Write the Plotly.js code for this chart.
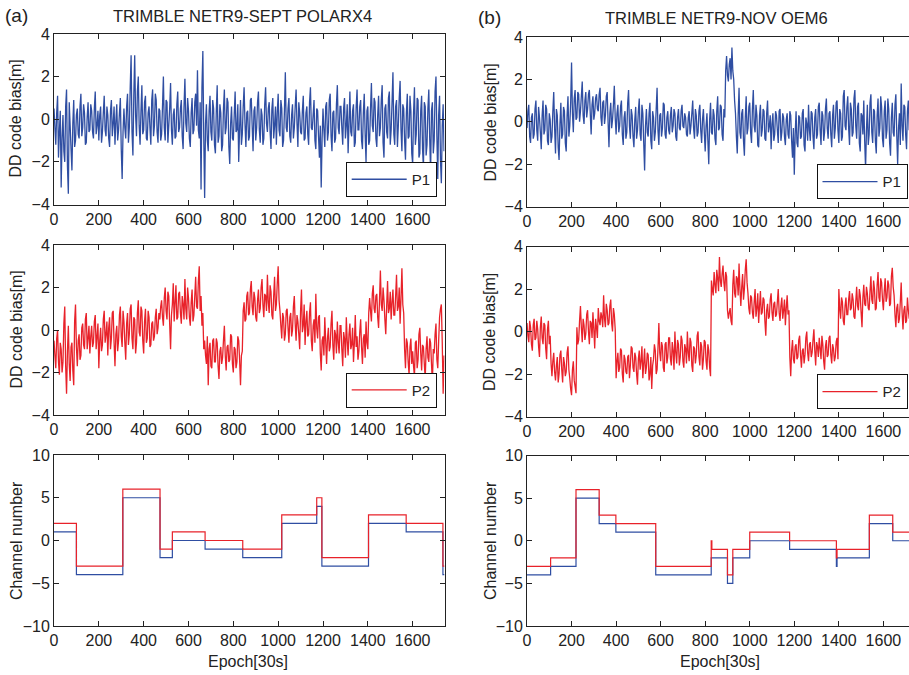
<!DOCTYPE html>
<html><head><meta charset="utf-8">
<script src="https://cdn.plot.ly/plotly-3.0.1.min.js"></script>
<style>html,body{margin:0;padding:0;background:#fff}#chart{width:909px;height:675px}</style>
</head><body><div id="chart"></div>
<script>
// ---------- data ----------
const SAMPLE_STEP = 4; // epochs between successive readings of the noisy series
const xTickVals = [0, 200, 400, 600, 800, 1000, 1200, 1400, 1600];
const biasTickVals = [-4, -2, 0, 2, 4];
const chanTickVals = [-10, -5, 0, 5, 10];

// (a) TRIMBLE NETR9 - SEPT POLARX4, DD code bias P1 [m]
const septP1 = [
 0.5,-0.4,-1.2,0.3,1.1,-1.8,-0.6,0.4,-3.2,-0.9,0.2,-1.5,-2.0,0.6,1.4,-2.2,-3.5,0.8,-0.3,-1.4,
 -2.4,-0.2,0.9,-1.3,-1.0,0.2,0.5,-0.7,-0.9,0.6,1.2,-0.8,-0.4,0.7,0.3,-1.2,-1.1,0.1,0.8,-0.6,
 -0.5,0.7,0.4,-0.6,-0.9,0.5,1.3,-0.7,-0.3,0.4,-1.0,0.2,0.6,-1.1,-0.6,0.3,1.1,-0.5,-0.8,0.6,
 0.2,-0.9,-1.3,0.4,0.9,-0.8,-0.2,0.6,-1.2,-0.1,0.7,-1.0,-0.5,0.3,1.0,-1.4,-2.8,-0.6,0.5,-0.4,
 -0.9,0.6,1.2,-1.1,-0.4,1.5,3.0,-0.6,-1.7,1.1,3.0,0.2,-0.8,1.3,2.0,-0.3,-1.2,0.4,1.6,-0.7,
 -0.5,0.8,1.1,-0.9,-1.0,0.3,0.6,-0.4,-1.2,0.9,1.4,-0.8,-0.3,1.2,0.9,-0.6,-1.1,0.5,0.4,-1.0,
 -0.7,0.6,2.0,-0.4,-1.0,0.9,0.8,-1.1,-0.3,0.5,1.7,-0.5,-1.2,0.2,0.5,-0.9,-0.8,0.7,1.3,-0.6,
 -0.4,0.5,0.9,-0.8,-1.4,0.6,1.9,-0.2,-0.6,1.0,0.4,-0.9,-1.3,0.3,1.0,-0.7,-0.5,0.8,1.2,-0.3,
 2.3,-0.5,-0.9,0.8,-3.3,1.5,3.2,-0.8,-3.7,-0.2,0.7,-1.0,-1.5,0.4,1.1,-0.6,-1.0,0.9,0.5,-1.2,
 -1.6,0.4,1.6,-1.1,-0.8,0.7,0.3,-1.5,-1.2,0.5,1.4,-0.7,-0.4,1.0,0.8,-1.3,-2.1,-0.2,0.6,-0.9,
 -1.0,0.2,1.3,-0.6,-0.5,0.7,-2.0,-0.4,0.9,-1.2,-0.7,0.6,1.5,-0.2,-1.3,0.3,0.4,-1.0,-0.8,0.9,
 1.0,-0.3,-1.5,0.4,0.6,-1.0,-0.4,0.8,1.3,-0.5,-1.1,0.5,0.2,-1.2,-0.9,0.7,1.5,-0.2,-0.6,0.5,
 0.8,-0.6,-1.4,0.5,1.0,-0.9,-0.3,0.6,-1.2,0.3,1.2,-0.5,-0.8,0.9,0.5,-1.3,-1.0,0.4,2.2,-0.4,
 -0.6,0.5,1.0,-0.8,-1.1,0.2,0.7,-0.9,-0.4,0.6,1.4,-0.2,-1.3,0.8,0.3,-0.6,-0.7,0.4,1.1,-1.0,
 -0.9,0.3,0.6,-0.7,-1.2,0.8,1.5,-0.4,-0.5,0.2,0.9,-1.0,-1.4,0.5,0.4,-0.8,-1.8,-0.3,-3.2,-0.9,
 0.5,-0.5,-1.3,0.6,0.8,-1.0,-0.6,0.9,1.2,-0.8,-1.5,0.3,0.4,-1.1,-0.9,0.7,1.6,-0.4,-0.7,0.6,
 0.6,-0.4,-1.2,0.5,1.0,-0.9,-0.3,0.7,-1.6,-0.2,1.3,-0.6,-0.8,0.4,0.7,-1.3,-1.1,0.6,1.4,-0.5,
 -0.5,0.6,0.9,-1.0,-1.4,0.3,1.2,-0.7,-2.0,0.4,0.6,-1.2,-1.0,0.5,1.7,-0.3,-0.6,1.0,0.8,-0.9,
 -1.3,0.2,1.1,-0.8,-0.4,0.9,1.6,-1.1,-1.8,0.5,0.7,-0.6,-0.9,1.0,1.3,-1.2,-0.5,0.8,2.2,-0.7,
 -1.2,0.6,0.9,-1.3,-0.3,1.0,1.8,-0.5,-1.5,0.7,0.5,-1.0,-1.9,0.3,1.2,-0.9,-0.8,1.1,0.4,-1.6,
 -2.1,0.3,1.5,-1.2,-0.7,1.0,0.9,-1.8,-1.6,0.4,1.1,-1.4,-2.3,0.8,0.6,-1.7,-1.2,0.5,1.4,-0.9,
 -2.5,0.4,0.8,-1.6,-1.0,1.3,2.0,-0.8,-2.8,0.2,1.1,-1.9,-3.0,-0.3,0.7,-1.5
];
// (a) DD code bias P2 [m]
const septP2 = [
 -0.5,-1.2,-1.8,-0.4,0.0,-1.5,-2.1,-0.6,-0.9,-2.0,-1.5,0.3,1.1,-1.7,-3.0,-1.0,0.2,-1.6,-2.4,-0.8,
 -0.6,-1.9,-2.6,0.4,1.2,-0.8,-1.7,-0.5,-0.2,-1.4,-1.2,0.1,0.3,-0.7,-0.9,0.5,0.8,-0.9,-0.4,0.2,
 -1.1,-0.3,0.2,-0.8,-0.6,0.4,0.7,-0.9,-0.3,0.3,-1.8,-0.5,0.1,-1.0,-0.7,0.5,0.9,-0.6,-0.2,0.4,
 -1.2,0.1,0.6,-0.9,-0.4,0.8,0.9,-0.6,-1.7,-0.2,0.2,-1.0,-0.5,0.7,1.1,-0.3,-0.8,0.9,0.4,-0.6,
 -1.4,0.3,0.8,-0.7,-0.2,1.0,1.2,-0.4,-0.9,0.6,0.5,-1.1,-0.6,0.8,1.4,-0.1,-0.3,1.1,0.9,-0.5,
 -1.1,0.4,1.0,-0.6,-0.4,0.9,0.6,-0.8,-0.7,0.3,0.4,-0.5,-0.3,0.6,1.0,-0.2,0.1,0.8,0.5,1.1,
 1.4,0.6,0.2,1.5,2.0,0.9,0.5,1.8,1.6,0.3,-0.9,0.7,1.2,2.2,0.4,1.3,2.1,0.5,0.6,1.7,
 1.8,0.8,0.3,1.6,1.2,0.5,2.4,1.0,0.5,2.0,1.5,0.6,0.2,1.3,1.9,0.4,0.7,1.6,2.5,1.1,
 1.0,2.3,3.0,0.9,1.6,0.2,0.8,-0.9,-0.5,-1.2,-1.6,-0.3,-2.6,-0.9,-0.6,-1.7,-1.8,-0.5,-0.4,-1.5,
 -1.5,-0.4,-0.6,-1.7,-2.3,-1.0,-0.8,-1.6,-1.3,-0.5,0.2,-1.2,-1.9,-0.8,-0.7,-1.5,-1.4,-0.2,-0.3,-1.6,
 -2.0,-0.8,-0.9,-1.8,-1.5,-0.3,-0.5,-1.4,-2.6,-1.2,-1.0,0.9,1.3,0.4,0.5,1.6,1.8,0.7,0.8,1.9,
 2.3,1.1,0.7,1.8,1.5,0.6,0.4,1.4,1.9,0.8,1.0,2.0,2.4,1.2,0.6,1.7,1.6,0.9,2.6,1.3,
 0.8,2.1,1.8,0.7,0.5,1.6,2.5,0.9,1.2,2.2,3.0,1.4,0.9,0.2,-0.4,0.8,0.6,-0.5,-0.2,0.9,
 1.0,0.1,-0.6,0.6,0.8,-0.3,0.0,1.1,1.6,0.3,-0.5,0.7,0.4,-0.2,-0.9,0.9,1.9,-0.1,0.2,1.2,
 -0.7,0.4,0.9,-0.3,-0.2,0.8,1.3,-0.5,-1.0,0.2,0.5,-0.6,1.7,0.1,-0.4,0.6,0.7,-1.1,-1.9,-0.5,
 -0.3,-1.2,0.6,-0.5,-1.6,-0.4,0.1,-1.0,-0.8,0.3,0.9,-0.7,-1.4,0.0,-0.2,-1.1,0.4,-0.6,-1.1,0.2,
 0.2,-0.9,-1.7,-0.1,-0.4,-1.3,0.6,-0.5,-1.2,-0.2,0.3,-0.9,-0.7,0.1,-1.5,-0.6,0.7,-0.8,-0.3,-1.4,
 -1.0,-0.1,0.5,-0.8,-1.6,-0.4,-0.2,-1.3,0.4,-0.6,-0.9,0.8,1.5,0.9,0.4,1.7,2.1,1.0,0.8,1.6,
 1.7,0.6,0.1,1.4,2.8,1.2,0.9,2.0,1.4,0.5,-0.2,1.1,2.3,0.8,1.0,1.8,0.5,1.3,1.9,0.7,
 0.7,1.6,2.6,0.9,1.1,2.0,0.3,1.5,2.9,1.2,0.8,-0.9,-1.8,-0.4,-0.6,-1.5,-2.1,-0.8,-0.4,-1.6,
 -1.0,-1.7,-2.2,-0.6,-0.5,-1.8,-1.4,-0.2,0.1,-1.1,-1.9,-0.7,-0.8,-1.6,-2.3,-0.9,-0.3,-1.3,-1.5,-0.4,
 -0.6,-1.6,-2.5,-0.9,-1.1,-0.2,0.3,-1.4,-1.8,-0.5,0.6,1.0,1.2,-0.6,-3.0,-1.2
];
// (b) TRIMBLE NETR9 - NOV OEM6, DD code bias P1 [m]
const novP1 = [
 -0.3,0.5,0.8,-0.7,-1.0,0.2,0.4,-0.8,-0.6,0.6,1.0,-0.4,-0.9,0.7,0.2,-0.5,-1.3,0.3,1.0,-0.6,
 -0.4,0.8,0.6,-0.9,-1.1,0.4,0.1,-1.0,-0.7,0.5,1.4,-0.3,-1.5,0.6,0.3,-1.2,-1.8,-0.1,0.9,-0.8,
 -0.6,0.7,0.5,-1.0,-1.4,0.3,1.2,-0.7,-0.2,0.9,2.8,0.4,-0.5,1.1,1.5,0.1,0.2,1.4,1.3,0.0,
 0.5,1.2,1.9,0.3,-0.1,1.0,1.4,0.2,0.6,1.3,1.5,0.4,-0.6,0.8,1.2,0.1,0.4,1.1,1.3,0.6,
 0.5,1.3,1.6,0.2,-0.2,0.9,1.0,-0.1,0.3,1.2,1.4,0.0,-1.2,0.4,0.9,-0.3,0.1,0.8,1.7,0.2,
 -0.6,0.4,0.8,-0.5,-0.2,0.7,1.0,-0.6,-1.1,0.2,0.5,-0.8,-0.5,0.9,1.5,-0.2,-0.8,0.6,0.3,-0.7,
 -1.2,0.1,0.7,-0.8,-0.4,0.5,1.1,-0.6,-0.9,0.8,0.4,-1.0,-2.3,-0.2,0.6,-0.5,-0.7,0.4,0.9,-0.9,
 -1.3,0.5,0.2,-0.9,-0.5,0.6,1.6,-0.4,-1.1,0.3,0.4,-0.7,-0.3,0.9,0.8,-0.6,-0.8,0.2,0.5,-0.4,
 -0.6,0.3,0.7,-0.5,-0.2,0.6,0.4,-0.7,-0.9,0.2,0.6,-0.3,-0.4,0.5,0.8,-0.2,-0.3,0.4,0.2,-0.6,
 -0.7,0.2,0.5,-0.6,-0.2,0.4,1.0,-0.3,-0.8,0.6,0.3,-0.7,-0.5,0.5,0.8,-0.4,-1.0,0.1,0.6,-0.5,
 -1.4,-0.2,0.4,-0.9,-2.0,0.1,0.9,-0.5,-0.6,0.6,0.3,-0.8,-1.1,0.5,1.2,-0.4,-0.3,0.8,0.7,-0.6,
 -0.9,0.6,0.2,2.4,3.1,2.2,1.9,2.7,3.0,2.0,3.5,2.4,2.0,1.0,0.4,-0.7,-1.5,0.3,1.6,-0.5,
 -0.8,0.4,0.6,-0.9,-1.6,0.2,1.2,-0.6,-0.3,0.7,0.9,-0.5,-1.0,0.6,1.5,-0.2,-0.5,0.8,0.3,-1.1,
 -1.2,0.3,0.8,-0.7,-0.4,0.6,0.5,-0.8,-0.9,0.4,1.0,-0.5,-0.2,0.3,-1.3,-0.1,0.4,-0.9,-0.6,0.5,
 0.3,-0.4,-1.0,0.5,0.6,-0.9,-0.5,0.4,0.2,-0.7,-1.1,0.1,0.4,-0.6,-0.8,0.5,0.3,-0.9,-1.7,-0.3,
 -2.5,-0.6,0.5,-1.0,-1.2,0.3,0.2,-0.8,-0.7,0.4,0.6,-1.1,-1.4,0.2,-0.1,-0.9,0.8,-0.4,-0.9,0.5,
 0.4,-0.7,-1.3,0.2,0.6,-0.8,-0.6,0.7,0.9,-0.4,-1.1,0.5,0.3,-0.9,-0.5,0.6,1.1,-0.3,-0.8,0.4,
 0.5,-0.6,-1.2,0.3,0.8,-0.8,-0.3,0.9,1.0,-0.4,-1.0,0.6,0.4,-0.9,-0.7,1.2,1.5,-0.2,-0.4,0.7,
 1.2,-0.3,-1.1,0.9,0.6,-0.7,-0.5,1.1,1.5,-0.2,-0.8,0.7,0.9,-1.0,-1.4,0.4,0.3,-0.6,1.0,-0.9,
 -2.2,-0.4,0.8,-1.1,-0.6,0.9,1.3,-0.5,-1.0,0.6,0.5,-0.9,-1.5,0.3,1.1,-0.7,-0.3,1.2,0.7,-0.8,
 -1.2,0.5,1.0,-0.8,-0.4,1.1,0.6,-1.0,-1.6,0.2,0.9,-0.5,-0.7,0.8,1.3,-0.6,-2.0,-0.3,0.4,-1.1,
 1.8,-0.2,-0.9,0.8,0.7,-0.6,-1.3,0.5,1.0,-0.4
];
// (b) DD code bias P2 [m]
const novP2 = [
 0.4,-0.2,-0.5,0.5,0.2,-0.6,-0.9,0.3,0.6,-0.4,-0.3,0.5,0.1,-0.7,-1.2,0.2,0.7,-0.3,-0.6,0.4,
 0.3,-0.8,-1.3,0.1,0.5,-0.6,-0.2,-1.5,-2.1,-1.4,-1.0,-1.9,-2.3,-1.6,-1.2,-2.4,-2.0,-1.1,-0.9,-1.8,
 -2.4,-1.2,-1.5,-2.1,-1.9,-1.0,-0.7,-1.8,-2.2,-2.7,-3.0,-1.8,-1.4,-2.3,-2.6,-2.9,0.2,-0.6,-0.4,0.5,
 1.2,0.2,-0.5,0.6,0.3,-0.4,-0.1,0.8,1.0,0.0,-0.6,0.5,0.4,-0.3,0.9,0.1,-0.8,0.6,0.2,-0.3,
 1.1,0.5,0.3,0.9,0.7,0.2,1.7,0.6,0.2,1.3,1.0,0.3,0.4,1.2,1.5,0.4,0.0,1.1,0.8,0.1,
 -2.2,-1.4,-1.0,-1.9,-1.7,-0.8,-0.9,-2.0,-2.4,-1.1,-1.3,-1.9,-2.0,-1.2,-1.1,-2.2,-1.6,-0.7,-0.8,-1.7,
 -1.9,-1.0,-1.2,-2.0,-2.5,-1.3,-0.9,-1.8,-1.4,-0.7,-2.2,-1.5,-0.8,-2.0,-1.7,-1.0,-1.1,-2.3,-2.0,-1.2,
 -2.7,-1.6,-1.3,-0.6,-0.9,-2.0,-1.8,-0.8,0.4,-1.0,-1.4,-0.5,-0.7,-1.7,-1.9,-0.6,-0.5,-1.5,-1.2,-0.3,
 -0.3,-1.3,-1.6,-0.5,-0.9,-1.8,0.0,-1.0,-1.5,-0.4,-0.6,-1.6,-1.2,-0.2,-0.4,-1.4,-1.7,-0.6,-0.8,-1.5,
 0.0,-1.0,-1.4,-0.3,-0.5,-1.6,-1.9,-0.7,-0.8,-1.5,-1.1,-0.2,0.0,-1.2,-1.6,-0.5,-0.7,-1.8,-1.3,-0.4,
 -0.5,-1.4,-1.8,-0.6,-0.9,-1.7,-2.1,2.4,2.0,1.7,2.8,2.2,1.8,2.9,2.5,1.9,3.5,2.4,2.1,2.7,
 3.1,2.3,1.9,2.8,2.6,1.0,0.6,0.9,1.1,0.5,0.3,2.2,2.9,1.8,1.6,2.6,2.5,1.7,3.2,2.0,
 1.2,2.1,2.7,1.5,2.0,2.9,3.4,2.3,1.8,1.1,0.8,1.7,1.6,0.9,0.6,1.4,2.0,0.7,1.1,1.8,
 0.4,1.2,1.9,0.8,0.9,1.6,1.5,0.5,-0.2,1.0,1.3,0.6,0.7,1.5,1.8,0.9,0.5,1.3,1.4,0.7,
 0.8,1.4,2.0,0.9,0.5,1.2,1.6,0.6,1.0,1.5,0.3,1.1,1.7,0.8,1.0,-1.2,-2.1,-0.9,-0.4,-1.3,
 -1.5,-0.7,-0.6,-1.3,-1.2,-0.4,-0.2,-1.1,-1.7,-0.9,-0.8,-1.5,-1.1,-0.3,0.0,-1.0,-1.4,-0.6,-0.5,-1.2,
 -1.0,-0.4,0.1,-0.9,-1.6,-0.5,-0.7,-1.2,-0.3,-0.8,-1.3,-0.2,-0.6,-1.4,-1.8,-0.7,-0.4,-1.2,-1.1,-0.3,
 -0.2,-1.1,-1.5,-0.6,-0.8,-1.4,-1.2,-0.5,-0.3,-1.3,2.0,1.1,0.6,1.6,1.4,0.5,0.3,1.2,1.6,0.8,
 0.8,1.5,1.9,1.0,1.1,1.8,1.5,0.7,0.6,1.4,2.1,1.2,1.0,2.0,1.7,0.9,0.2,1.6,2.2,1.3,
 1.2,2.1,1.8,1.1,1.0,1.9,2.6,1.5,1.3,2.4,2.0,1.0,1.1,2.2,2.8,1.6,1.4,2.5,2.3,1.5,
 1.0,1.9,2.5,1.4,1.6,2.4,2.2,1.2,1.3,2.6,3.0,2.1,1.7,0.8,0.2,1.1,1.3,0.4,0.6,1.4,
 2.3,0.9,0.1,1.0,1.2,0.4,0.5,1.6,1.0,0.6
];
// channel number step changes (epoch where a level starts, level)
const septChanEpochs = [0, 100, 307, 473, 528, 674, 842, 1016, 1172, 1195, 1403, 1571, 1735, 1742];
const septChanP1 = [1, -4, 5, -2, 0, -1, -2, 2, 4, -3, 2, 1, -4, -4];
const septChanP2 = [2, -3, 6, -1, 1, 0, -1, 3, 5, -2, 3, 2, -3, -3];
const novChanEpochsP1 = [0, 106, 220, 324, 399, 578, 827, 900, 924, 1000, 1179, 1389, 1392, 1537, 1642, 1720];
const novChanP1 = [-4, -3, 5, 2, 1, -4, -2, -5, -2, 0, -1, -3, -2, 2, 0, 0];
const novChanEpochsP2 = [0, 106, 220, 324, 399, 578, 827, 830, 900, 924, 1000, 1179, 1389, 1392, 1537, 1642, 1720];
const novChanP2 = [-3, -2, 6, 3, 2, -3, 0, -1, -4, -1, 1, 0, -2, -1, 3, 1, 1];

// ---------- drawing ----------
const W = 909, H = 675;
const FONT = 'Liberation Sans, Arial, Helvetica, sans-serif';
const TXT = '#222';
const BLUE = '#2f4ea2', RED = '#e8222a';
const epochsOf = arr => arr.map((_, i) => i * SAMPLE_STEP);
const noisyLine = c => ({color: c, width: 1.3, simplify: false});
const stepLine = c => ({color: c, width: 1.2, shape: 'hv', simplify: false});

const traces = [
  {x: epochsOf(septP1), y: septP1, xaxis: 'x', yaxis: 'y', name: 'P1', type: 'scatter', mode: 'lines', line: noisyLine(BLUE), legend: 'legend'},
  {x: epochsOf(septP2), y: septP2, xaxis: 'x2', yaxis: 'y2', name: 'P2', type: 'scatter', mode: 'lines', line: noisyLine(RED), legend: 'legend2'},
  {x: septChanEpochs, y: septChanP1, xaxis: 'x3', yaxis: 'y3', name: 'P1', mode: 'lines', line: stepLine(BLUE), showlegend: false},
  {x: septChanEpochs, y: septChanP2, xaxis: 'x3', yaxis: 'y3', name: 'P2', mode: 'lines', line: stepLine(RED), showlegend: false},
  {x: epochsOf(novP1), y: novP1, xaxis: 'x4', yaxis: 'y4', name: 'P1', type: 'scatter', mode: 'lines', line: noisyLine(BLUE), legend: 'legend3'},
  {x: epochsOf(novP2), y: novP2, xaxis: 'x5', yaxis: 'y5', name: 'P2', type: 'scatter', mode: 'lines', line: noisyLine(RED), legend: 'legend4'},
  {x: novChanEpochsP1, y: novChanP1, xaxis: 'x6', yaxis: 'y6', name: 'P1', mode: 'lines', line: stepLine(BLUE), showlegend: false},
  {x: novChanEpochsP2, y: novChanP2, xaxis: 'x6', yaxis: 'y6', name: 'P2', mode: 'lines', line: stepLine(RED), showlegend: false}
];

const LEFT = [54 / W, 444.5 / W], RIGHT = [527 / W, 1];
const LEFT_RANGE = [0, 1742], RIGHT_RANGE = [0, 1715];
const rowDom = (top, bot) => [1 - bot / H, 1 - top / H];

function xAx(domain, range, anchor) {
  return {domain, range, anchor, tickmode: 'array', tickvals: xTickVals, ticks: 'inside', ticklen: 5,
    tickcolor: TXT, showline: true, linecolor: TXT, linewidth: 1, mirror: 'ticks', showgrid: false,
    zeroline: false, tickfont: {family: FONT, size: 16, color: TXT}, fixedrange: true};
}
function yAx(domain, range, ticks, anchor, mirror) {
  return {domain, range, anchor, tickmode: 'array', tickvals: ticks, ticks: 'inside', ticklen: 5,
    tickcolor: TXT, showline: true, linecolor: TXT, linewidth: 1, mirror: mirror, showgrid: false,
    zeroline: false, tickfont: {family: FONT, size: 16, color: TXT}, fixedrange: true};
}
function leg(rightPx, bottomPx) {
  return {x: rightPx / W, y: 1 - bottomPx / H, xanchor: 'right', yanchor: 'bottom', bgcolor: '#fff',
    bordercolor: '#111', borderwidth: 1, font: {family: FONT, size: 15, color: TXT}, itemwidth: 55};
}
function ann(text, xpx, ypx, size, angle) {
  return {text, x: xpx / W, y: 1 - ypx / H, xref: 'paper', yref: 'paper', xanchor: 'center', yanchor: 'middle',
    showarrow: false, textangle: angle || 0, font: {family: FONT, size, color: TXT}};
}

const layout = {
  width: W, height: H, margin: {l: 0, r: 0, t: 0, b: 0}, paper_bgcolor: '#fff', plot_bgcolor: '#fff',
  font: {family: FONT, color: TXT},
  xaxis: xAx(LEFT, LEFT_RANGE, 'y'),
  yaxis: yAx(rowDom(34, 204.5), [-4, 4], biasTickVals, 'x', 'ticks'),
  xaxis2: xAx(LEFT, LEFT_RANGE, 'y2'),
  yaxis2: yAx(rowDom(245, 415), [-4, 4], biasTickVals, 'x2', 'ticks'),
  xaxis3: xAx(LEFT, LEFT_RANGE, 'y3'),
  yaxis3: yAx(rowDom(455, 626), [-10, 10], chanTickVals, 'x3', 'ticks'),
  xaxis4: xAx(RIGHT, RIGHT_RANGE, 'y4'),
  yaxis4: yAx(rowDom(37, 206.5), [-4, 4], biasTickVals, 'x4', false),
  xaxis5: xAx(RIGHT, RIGHT_RANGE, 'y5'),
  yaxis5: yAx(rowDom(246.5, 416.5), [-4, 4], biasTickVals, 'x5', false),
  xaxis6: xAx(RIGHT, RIGHT_RANGE, 'y6'),
  yaxis6: yAx(rowDom(455.5, 626), [-10, 10], chanTickVals, 'x6', false),
  legend: leg(436.7, 197),
  legend2: leg(436.7, 407.7),
  legend3: leg(907.5, 199.3),
  legend4: leg(907.5, 409.3),
  showlegend: true,
  annotations: [
    ann('(a)', 16.5, 16, 19),
    ann('TRIMBLE NETR9-SEPT POLARX4', 242.5, 16, 16.5),
    ann('(b)', 489.5, 17.5, 19),
    ann('TRIMBLE NETR9-NOV OEM6', 716.7, 18, 16.5),
    ann('DD code bias[m]', 15.5, 119, 16, -90),
    ann('DD code bias[m]', 15.5, 330, 16, -90),
    ann('Channel number', 16.5, 540.5, 16, -90),
    ann('DD code bias[m]', 489.5, 122, 16, -90),
    ann('DD code bias[m]', 489.5, 331.5, 16, -90),
    ann('Channel number', 490, 541, 16, -90),
    ann('Epoch[30s]', 247.5, 661.5, 16),
    ann('Epoch[30s]', 719.5, 661.5, 16)
  ]
};

Plotly.newPlot('chart', traces, layout, {staticPlot: true, displayModeBar: false});
</script>
</body></html>
